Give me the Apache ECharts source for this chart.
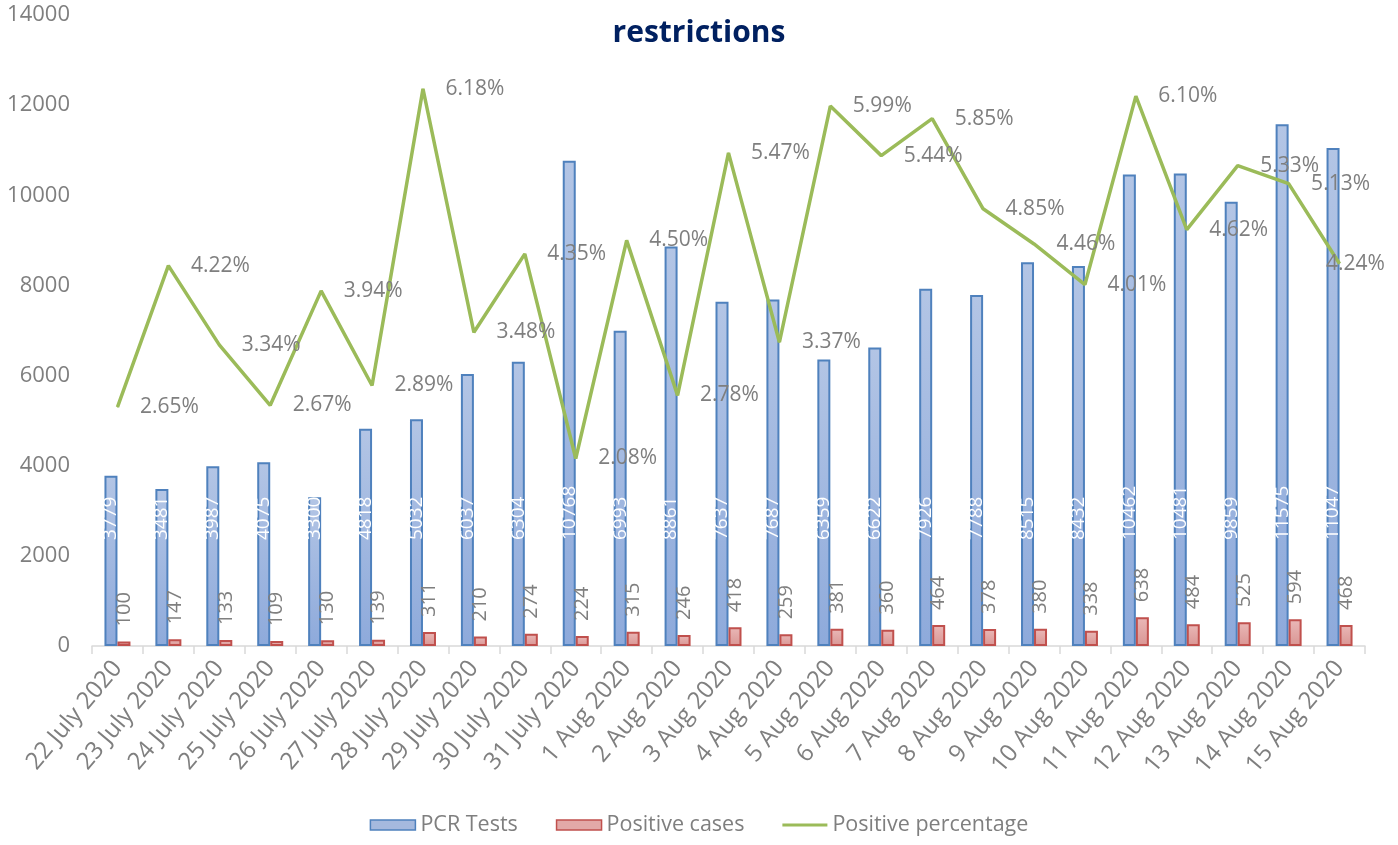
<!DOCTYPE html>
<html>
<head>
<meta charset="utf-8">
<script src="https://cdn.jsdelivr.net/npm/echarts@6/dist/echarts.min.js"></script>
<style>
html,body{margin:0;padding:0;background:#fff;}
#chart{width:1398px;height:845px;}
</style>
</head>
<body>
<div id="chart"></div>
<script>
const categories = ["22 July 2020","23 July 2020","24 July 2020","25 July 2020","26 July 2020","27 July 2020","28 July 2020","29 July 2020","30 July 2020","31 July 2020","1 Aug 2020","2 Aug 2020","3 Aug 2020","4 Aug 2020","5 Aug 2020","6 Aug 2020","7 Aug 2020","8 Aug 2020","9 Aug 2020","10 Aug 2020","11 Aug 2020","12 Aug 2020","13 Aug 2020","14 Aug 2020","15 Aug 2020"];
const pcrTests = [3779,3481,3987,4075,3300,4818,5032,6037,6304,10768,6993,8861,7637,7687,6359,6622,7926,7788,8515,8432,10462,10481,9859,11575,11047];
const positiveCases = [100,147,133,109,130,139,311,210,274,224,315,246,418,259,381,360,464,378,380,338,638,484,525,594,468];
const positivePct = [2.65,4.22,3.34,2.67,3.94,2.89,6.18,3.48,4.35,2.08,4.50,2.78,5.47,3.37,5.99,5.44,5.85,4.85,4.46,4.01,6.10,4.62,5.33,5.13,4.24];
const titleText = "restrictions";

const FONT = "Open Sans";
const GRAY = "#7f7f7f";
const lastIdx = positivePct.length - 1;
const pctData = positivePct.map((v,i)=> i===lastIdx ? {value:v,label:{position:'right',distance:-14}} : v);

const chart = echarts.init(document.getElementById('chart'), null, {renderer:'canvas'});
chart.setOption({
  animation:false,
  backgroundColor:'#ffffff',
  textStyle:{fontFamily:FONT},
  title:{text:titleText,left:'center',top:13,
    textStyle:{fontFamily:FONT,fontWeight:'bold',fontSize:30,color:'#002060'}},
  legend:{bottom:4,left:'center',itemWidth:45,itemHeight:10,itemGap:38,
    textStyle:{fontFamily:FONT,fontSize:21.5,color:GRAY},
    data:[
      {name:'PCR Tests',icon:'rect',itemStyle:{color:'#a5b9de',borderColor:'#4f81bd',borderWidth:1.5}},
      {name:'Positive cases',icon:'rect',itemStyle:{color:'#e2a9a8',borderColor:'#c0504d',borderWidth:1.5}},
      {name:'Positive percentage',icon:'path://M0,0L0.01,0L0.01,0.01L0,0.01Z M0,3.6L45,3.6L45,6.4L0,6.4Z M0,9.99L0.01,9.99L0.01,10L0,10Z',
        itemStyle:{color:'#9bbb59',borderWidth:0}}
    ]},
  grid:{left:92,right:33,top:15,bottom:199,containLabel:false},
  xAxis:{type:'category',data:categories,
    axisLine:{lineStyle:{color:'#d9d9d9',width:1.5}},
    axisTick:{show:true,length:8,lineStyle:{color:'#d9d9d9',width:1.5}},
    axisLabel:{rotate:50,fontFamily:FONT,fontSize:24,color:GRAY,margin:18,interval:0}},
  yAxis:[
    {type:'value',min:0,max:14000,interval:2000,
      axisLine:{show:false},axisTick:{show:false},splitLine:{show:false},
      axisLabel:{fontFamily:FONT,fontSize:22,color:GRAY,margin:22,formatter:v=>String(v)}},
    {type:'value',min:0,max:7,show:false,splitLine:{show:false}}
  ],
  series:[
    {name:'PCR Tests',type:'bar',data:pcrTests,barWidth:13,barGap:'0%',
      itemStyle:{borderColor:'#4f81bd',borderWidth:2,
        color:new echarts.graphic.LinearGradient(0,0,0,1,[{offset:0,color:'#b3c5e5'},{offset:1,color:'#8eaadb'}])},
      label:{show:true,position:'insideBottom',distance:106,rotate:90,align:'left',verticalAlign:'middle',
        color:'#ffffff',fontFamily:FONT,fontSize:19}},
    {name:'Positive cases',type:'bar',data:positiveCases,barWidth:13,barGap:'0%',
      itemStyle:{borderColor:'#c0504d',borderWidth:2,
        color:new echarts.graphic.LinearGradient(0,0,0,1,[{offset:0,color:'#eab8b7'},{offset:1,color:'#d99694'}])},
      label:{show:true,position:'top',distance:15,rotate:90,align:'left',verticalAlign:'middle',
        color:GRAY,fontFamily:FONT,fontSize:20}},
    {name:'Positive percentage',type:'line',yAxisIndex:1,data:pctData,
      symbol:'circle',symbolSize:1,showSymbol:true,itemStyle:{color:'#9bbb59'},
      lineStyle:{color:'#9bbb59',width:3.5},
      label:{show:true,position:'right',distance:22,color:GRAY,fontFamily:FONT,fontSize:21,
        formatter:p=>Number(p.value).toFixed(2)+'%'}}
  ]
});
</script>
</body>
</html>
